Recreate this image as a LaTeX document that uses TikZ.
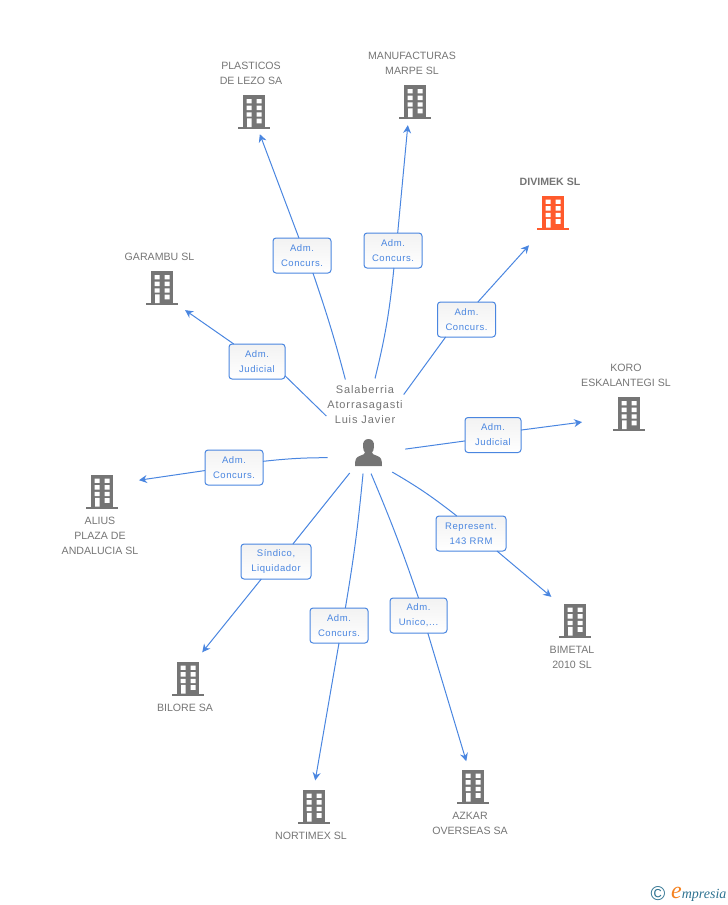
\documentclass[tikz,border=0pt]{standalone}
\usepackage{fontspec}
\setmainfont{Liberation Sans}
\newfontfamily\boxfont[LetterSpace=6]{Liberation Sans}
\newfontfamily\hubfont[LetterSpace=8]{Liberation Sans}
\newfontfamily\markfont{Liberation Serif}
\usetikzlibrary{arrows.meta,shapes.geometric}
\definecolor{linkblue}{HTML}{4A86E0}
\definecolor{towergrey}{HTML}{757575}
\definecolor{towerred}{HTML}{FF5A2C}
\definecolor{marking}{HTML}{2F7391}
\definecolor{markorange}{HTML}{F58220}
\tikzset{
	pics/tower/.style={code={
		\fill[#1] (-11,-17) rectangle (11,15);
		\fill[#1] (-16,15) rectangle (16,17);
		\fill[white] (-7.5,-13) rectangle (-2.5,-8.7) (2.5,-13) rectangle (7.5,-8.7);
		\fill[white] (-7.5,-6.3) rectangle (-2.5,-2) (2.5,-6.3) rectangle (7.5,-2);
		\fill[white] (-7.5,0.3) rectangle (-2.5,4.7) (2.5,0.3) rectangle (7.5,4.7);
		\fill[white] (-7,6.3) rectangle (-2.5,15) (2.5,6.7) rectangle (7.5,11.3);
	}},
	pics/personicon/.style={code={
		\fill[towergrey] (0,-14) .. controls (-4,-14) and (-6,-11) .. (-5.5,-6) .. controls (-5.2,-3) and (-4.5,-1.5) .. (-3.5,-0.5)
			.. controls (-3.5,1) and (-5,1.5) .. (-9,3) .. controls (-12.5,4.5) and (-13.5,6) .. (-13.5,13)
			-- (13.5,13) .. controls (13.5,6) and (12.5,4.5) .. (9,3) .. controls (5,1.5) and (3.5,1) .. (3.5,-0.5)
			.. controls (4.5,-1.5) and (5.2,-3) .. (5.5,-6) .. controls (6,-11) and (4,-14) .. (0,-14) -- cycle;
	}},
	tower_node/.style={rectangle,minimum width=32pt,minimum height=34pt,inner sep=0pt},
	hub_node/.style={circle,minimum size=96pt,inner sep=0pt},
	name_node/.style={align=center,text=towergrey,font=\fontsize{10.6}{15}\selectfont,inner sep=0pt},
	link_box/.style={rectangle,rounded corners=3pt,draw=linkblue,line width=1pt,top color=black!5,bottom color=white,
		minimum height=35pt,minimum width=58pt,inner sep=0pt,outer sep=0pt,align=center,text=linkblue,font=\boxfont\fontsize{9.5}{15}\selectfont},
	link/.style={draw=linkblue,line width=1pt},
	link_arrow/.style={link,-{Stealth[length=8pt,width=8pt]},shorten >=#1}
}
\begin{document}
\begin{tikzpicture}[x=1pt,y=-1pt]
	\useasboundingbox (0,0) rectangle (728,905);

	\node[hub_node] (hub) at (367,428) {};
	\node[name_node,font=\hubfont\fontsize{11}{15}\selectfont] (person_name) at (365,404.5) {Salaberria\\Atorrasagasti\\Luis Javier};
	\pic at (368.5,453) {personicon};

	\node[tower_node] (plasticos) at (254,112) {};
	\node[tower_node] (manufacturas) at (415,102) {};
	\node[tower_node] (divimek) at (553,212.5) {};
	\node[tower_node] (garambu) at (162,288) {};
	\node[tower_node] (koro) at (629,414) {};
	\node[tower_node] (alius) at (102,491.5) {};
	\node[tower_node] (bimetal) at (575,620.5) {};
	\node[tower_node] (bilore) at (188,678.5) {};
	\node[tower_node] (nortimex) at (314,806.5) {};
	\node[tower_node] (azkar) at (473,786.5) {};

	\pic at (plasticos) {tower=towergrey};
	\pic at (manufacturas) {tower=towergrey};
	\pic at (divimek) {tower=towerred};
	\pic at (garambu) {tower=towergrey};
	\pic at (koro) {tower=towergrey};
	\pic at (alius) {tower=towergrey};
	\pic at (bimetal) {tower=towergrey};
	\pic at (bilore) {tower=towergrey};
	\pic at (nortimex) {tower=towergrey};
	\pic at (azkar) {tower=towergrey};

	\node[name_node] (plasticos_txt) at (251,73.5) {PLASTICOS\\DE LEZO SA};
	\node[name_node] (manufacturas_txt) at (412,63) {MANUFACTURAS\\MARPE SL};
	\node[name_node,font=\fontsize{10.6}{15}\selectfont\bfseries] (divimek_txt) at (550,182) {DIVIMEK SL};
	\node[name_node] (garambu_txt) at (159.5,257) {GARAMBU SL};
	\node[name_node] (koro_txt) at (626,375.5) {KORO\\ESKALANTEGI SL};
	\node[name_node] (alius_txt) at (100,536) {ALIUS\\PLAZA DE\\ANDALUCIA SL};
	\node[name_node] (bimetal_txt) at (572,657.5) {BIMETAL\\2010 SL};
	\node[name_node] (bilore_txt) at (185,708) {BILORE SA};
	\node[name_node] (nortimex_txt) at (311,836) {NORTIMEX SL};
	\node[name_node] (azkar_txt) at (470,823.5) {AZKAR\\OVERSEAS SA};

	\node[link_box] (box_plasticos) at (302,255.5) {Adm.\\Concurs.};
	\node[link_box] (box_manufacturas) at (393,250.5) {Adm.\\Concurs.};
	\node[link_box] (box_divimek) at (466.5,319.5) {Adm.\\Concurs.};
	\node[link_box,minimum width=56pt] (box_garambu) at (257,361.5) {Adm.\\Judicial};
	\node[link_box,minimum width=56pt] (box_koro) at (493,435) {Adm.\\Judicial};
	\node[link_box] (box_alius) at (234,467.5) {Adm.\\Concurs.};
	\node[link_box,minimum width=70pt] (box_bimetal) at (471,533.5) {Represent.\\143 RRM};
	\node[link_box,minimum width=70pt] (box_bilore) at (276,561.5) {Síndico,\\Liquidador};
	\node[link_box] (box_nortimex) at (339,625.5) {Adm.\\Concurs.};
	\node[link_box,minimum width=57pt] (box_azkar) at (418.5,615.5) {Adm.\\Unico,...};

	\draw[link,shorten >=5pt] (box_plasticos.-58) to[bend left=2] (hub.115);
	\draw[link,shorten >=2pt] (box_manufacturas.-87) to[bend left=4] (hub.81);
	\draw[link,shorten >=1.5pt] (box_divimek.-140) -- (hub.42);
	\draw[link,shorten >=-6.5pt] (box_garambu.-27) -- (hub.160);
	\draw[link,shorten >=-5.5pt] (box_koro.192) -- (hub.-25);
	\draw[link,shorten >=1.5pt] (box_alius.12) to[bend left=3] (hub.-142);
	\draw[link,shorten >=3pt] (box_bimetal.129) to[bend right=4] (hub.-62);
	\draw[link] (box_bilore.46) -- (hub.-111);
	\draw[link,shorten >=-2.5pt] (box_nortimex.70) to[bend right=2] (hub.-95);
	\draw[link,shorten >=-2.5pt] (box_azkar.90) to[bend right=2] (hub.-84);

	\draw[link_arrow=5.3pt] (box_plasticos.100) -- (plasticos.-77);
	\draw[link_arrow=6pt] (box_manufacturas.75) -- (manufacturas.-111);
	\draw[link_arrow=21pt] (box_divimek.57) -- (divimek.-120);
	\draw[link_arrow=8.6pt] (box_garambu.143) -- (garambu.-47);
	\draw[link_arrow=31pt] (box_koro.10) -- (koro.194);
	\draw[link_arrow=21pt] (box_alius.186) -- (alius.27);
	\draw[link_arrow=10pt] (box_bimetal.-34) -- (bimetal.133);
	\draw[link_arrow=11.6pt] (box_bilore.-130) -- (bilore.68);
	\draw[link_arrow=9pt] (box_nortimex.-90) -- (nortimex.91);
	\draw[link_arrow=8.5pt] (box_azkar.-62) -- (azkar.104);

	\node[text=marking,inner sep=0pt,font=\fontsize{20}{20}\selectfont] (mark_c) at (658,894) {©};
	\node[anchor=base west,inner sep=0pt,text=marking,font=\markfont\itshape\fontsize{14}{14}\selectfont] (mark_txt) at (671,898) {{\color{markorange}\fontsize{24}{24}\selectfont e}mpresia};
\end{tikzpicture}
\end{document}
